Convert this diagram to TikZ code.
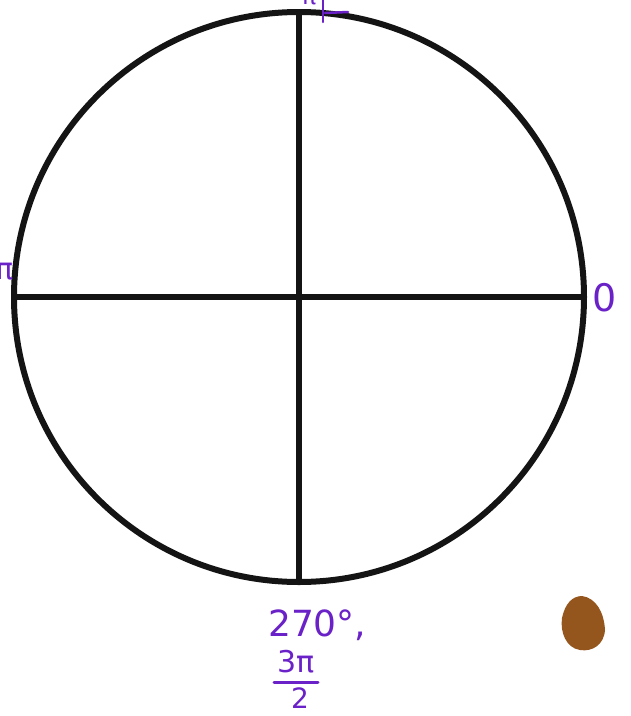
\documentclass[tikz,border=0pt]{standalone}
\usepackage{fontspec}
\setmainfont{DejaVu Sans}
\begin{document}
\begin{tikzpicture}[x=1pt,y=-1pt,
  axis/.style={line width=6pt,black!92},
  hand/.style={text=penpurple,inner sep=0pt,font=\fontsize{30}{32}\selectfont},
  pen/.style={penpurple,line width=2.5pt,line cap=round},
]
\definecolor{penpurple}{HTML}{6A22C8}
\definecolor{blobbrown}{HTML}{94561C}
\useasboundingbox (0,0) rectangle (631,716);
\fill[white] (0,0) rectangle (631,716);
\coordinate (c) at (299,297);
\coordinate (l) at (14,297);
\coordinate (r) at (584,297);
\coordinate (t) at (299,12);
\coordinate (b) at (299,582);
\draw[axis] (c) circle[radius=285];
\draw[axis] (l) -- (r);
\draw[axis] (t) -- (b);
\node[hand,font=\fontsize{24}{26}\selectfont] (top) at (309,-2) {π};
\coordinate (tk1) at (323,0);
\coordinate (tk2) at (323,22);
\coordinate (tb1) at (325,13);
\coordinate (tb2) at (348,12);
\draw[pen] (tk1) -- (tk2);
\draw[pen] (tb1) -- (tb2);
\node[hand] (left) at (5,272) {π};
\node[hand,font=\fontsize{38}{40}\selectfont] (zero) at (605,298) {0};
\node[hand,anchor=west,font=\fontsize{36}{38}\selectfont] (deg) at (268,625) {270°,};
\node[hand,font=\fontsize{30}{32}\selectfont] (num) at (296,662) {3π};
\coordinate (fb1) at (274,682);
\coordinate (fb2) at (318,682);
\draw[pen,line width=3pt] (fb1) -- (fb2);
\node[hand,font=\fontsize{28}{30}\selectfont] (den) at (300,698) {2};
\fill[blobbrown] (582,596) .. controls (596,598) and (604,612) .. (605,630)
  .. controls (604,645) and (592,652) .. (580,650)
  .. controls (566,648) and (560,632) .. (562,618)
  .. controls (565,604) and (572,596) .. (582,596) -- cycle;
\end{tikzpicture}
\end{document}
